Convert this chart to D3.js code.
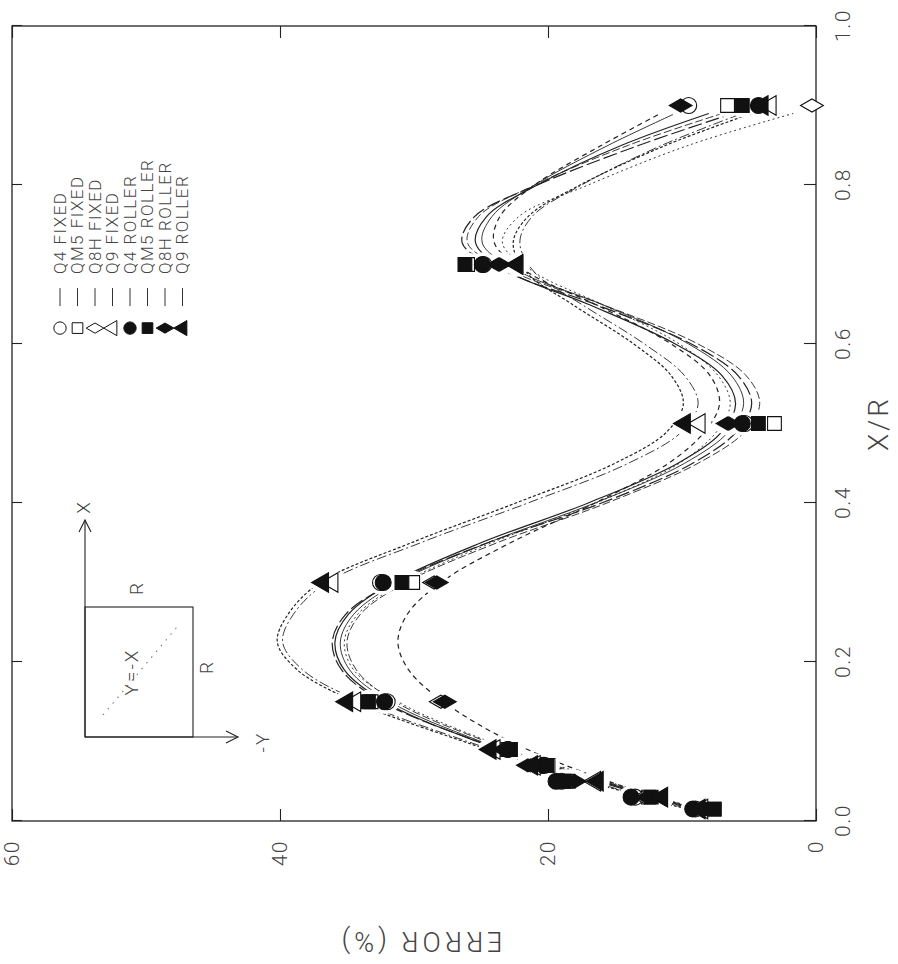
<!DOCTYPE html>
<html><head><meta charset="utf-8">
<script src="https://cdn.jsdelivr.net/npm/d3@7"></script>
<style>
html,body{margin:0;padding:0;background:#fff;}
svg{display:block;}
text{font-family:Roboto,"DejaVu Sans",sans-serif;font-weight:300;fill:#444;}
</style></head><body>
<svg id="chart" width="898" height="964"></svg>
<script>
// ---- series definitions ----
const seriesNames   = ["Q4 FIXED","QM5 FIXED","Q8H FIXED","Q9 FIXED","Q4 ROLLER","QM5 ROLLER","Q8H ROLLER","Q9 ROLLER"];
const seriesSymbols = ["circle","square","diamond","triangle","circle","square","diamond","triangle"];
const seriesFilled  = [false,false,false,false,true,true,true,true];
const seriesDash    = ["none","8,3","2,3","10,3,2,3","none","14,4","5,4","3,2"];

// measured points: X/R stations
const pointXR = [0.015,0.03,0.05,0.07,0.09,0.15,0.3,0.5,0.7,0.9];
const q4Fixed    = [9.0,13.5,19.0,20.5,23.0,32.0,32.5,5.3,24.8,9.5];
const qm5Fixed   = [7.6,12.5,18.5,20.0,23.0,33.2,30.1,3.1,26.0,6.6];
const q8hFixed   = [8.0,12.8,18.2,21.3,23.5,28.0,28.5,6.5,23.6,0.3];
const q9Fixed    = [8.5,11.5,16.5,21.0,24.0,34.4,36.1,8.7,22.3,3.4];
const q4Roller   = [9.2,13.8,19.4,20.3,23.0,32.2,32.3,5.5,24.9,4.3];
const qm5Roller  = [7.6,12.3,18.8,20.1,22.8,33.4,30.9,4.3,26.2,5.5];
const q8hRoller  = [8.2,12.6,18.0,21.5,23.3,27.7,28.3,6.6,23.7,10.1];
const q9Roller   = [8.7,11.5,16.3,21.2,24.3,35.0,36.8,9.8,22.3,4.0];
const pointSets  = [q4Fixed,qm5Fixed,q8hFixed,q9Fixed,q4Roller,qm5Roller,q8hRoller,q9Roller];

// fitted curves: X/R knots and fitted error values
const fitXR = [0.01,0.05,0.10,0.15,0.19,0.225,0.26,0.30,0.35,0.40,0.45,0.49,0.525,0.56,0.60,0.65,0.69,0.727,0.76,0.80,0.85,0.89];
const q4FixedFit   = [8.0,16.0,25.0,31.8,34.8,35.5,34.5,31.2,24.5,16.5,9.8,6.5,5.4,6.3,9.5,16.0,22.0,24.9,24.2,21.0,15.5,10.5];
const qm5FixedFit  = [7.8,15.8,24.6,31.4,34.3,35.0,34.0,30.6,23.8,15.6,8.8,5.3,4.2,5.2,8.8,16.0,22.5,26.0,25.2,21.0,14.0,7.0];
const q8hFixedFit  = [7.7,15.6,24.4,31.2,34.5,35.2,34.2,30.8,24.2,16.4,10.2,7.4,6.4,7.3,10.2,16.0,21.0,23.4,22.2,17.0,9.5,1.7];
const q9FixedFit   = [8.4,16.8,26.0,34.0,38.3,39.8,39.0,36.5,29.5,21.5,14.0,10.0,8.8,9.8,12.8,17.5,21.0,22.1,21.2,17.5,11.5,5.5];
const q4RollerFit  = [8.2,16.3,25.3,32.2,35.2,35.9,34.9,31.6,25.0,17.0,10.3,7.0,6.0,7.0,10.5,17.0,22.8,25.4,24.6,20.8,14.5,8.0];
const qm5RollerFit = [7.9,16.1,25.2,32.4,35.4,36.1,35.1,31.5,24.5,16.0,9.2,5.9,4.8,5.8,9.3,16.5,23.0,26.4,25.5,20.8,13.2,6.2];
const q8hRollerFit = [8.0,15.5,22.8,27.8,30.4,31.2,30.5,28.0,22.8,16.5,11.0,8.3,7.2,7.9,10.8,16.5,21.5,24.0,23.6,21.0,16.0,11.6];
const q9RollerFit  = [8.6,17.0,26.3,34.4,38.7,40.2,39.4,37.0,30.2,22.4,15.0,11.1,9.9,10.8,13.6,18.2,21.6,22.6,21.5,17.6,11.2,4.8];
const fitSets = [q4FixedFit,qm5FixedFit,q8hFixedFit,q9FixedFit,q4RollerFit,qm5RollerFit,q8hRollerFit,q9RollerFit];

// axes
const xrTicks  = [0,0.2,0.4,0.6,0.8,1.0];
const errTicks = [0,20,40,60];

// ---- layout: the plot is built upright, then turned a quarter turn ----
const W = 795, H = 804;
const svg = d3.select("#chart");
const g = svg.append("g").attr("transform","translate(12,821) rotate(-90)");

const x = d3.scaleLinear().domain([0,1]).range([0,W]);
const y = d3.scaleLinear().domain([0,60]).range([H,0]);

const symType = {circle:d3.symbolCircle, square:d3.symbolSquare, diamond:d3.symbolDiamond, triangle:d3.symbolTriangle};
const symSize = {circle:200, square:190, diamond:150, triangle:165};
const sym = s => d3.symbol().type(symType[s]).size(symSize[s]);

// clip & gap mask so fitted lines break around the symbols
const defs = svg.append("defs");
defs.append("clipPath").attr("id","plotclip").append("rect").attr("width",W).attr("height",H);
const mask = defs.append("mask").attr("id","gaps").attr("maskUnits","userSpaceOnUse")
  .attr("x",-50).attr("y",-50).attr("width",W+100).attr("height",H+100);
mask.append("rect").attr("x",-50).attr("y",-50).attr("width",W+100).attr("height",H+100).attr("fill","#fff");
pointSets.forEach(vals => vals.forEach((v,i) => {
  mask.append("circle").attr("cx",x(pointXR[i])).attr("cy",y(v)).attr("r",12).attr("fill","#000");
}));

// axes
const axisStyle = sel => {
  sel.select(".domain").remove();
  sel.selectAll(".tick line").attr("stroke","#222").attr("stroke-width",1.1);
  sel.selectAll(".tick text").attr("fill","#555").style("font-size","21px").style("letter-spacing","1.5px");
};
g.append("g").attr("transform",`translate(0,${H})`)
  .call(d3.axisBottom(x).tickValues(xrTicks).tickFormat(d3.format(".1f")).tickSizeInner(-12).tickSizeOuter(0).tickPadding(19))
  .call(axisStyle);
g.append("g")
  .call(d3.axisLeft(y).tickValues(errTicks).tickFormat(d3.format("d")).tickSizeInner(-12).tickSizeOuter(0).tickPadding(19))
  .call(axisStyle);
g.append("g")
  .call(d3.axisTop(x).tickValues(xrTicks).tickFormat("").tickSizeInner(-10).tickSizeOuter(0))
  .call(axisStyle);
g.append("g").attr("transform",`translate(${W},0)`)
  .call(d3.axisRight(y).tickValues(errTicks).tickFormat("").tickSizeInner(-12).tickSizeOuter(0))
  .call(axisStyle);
g.append("rect").attr("width",W).attr("height",H).attr("fill","none").attr("stroke","#222").attr("stroke-width",1.3);

// axis titles
g.append("text").attr("x",W/2).attr("y",H+72).attr("text-anchor","middle")
  .style("font-size","28px").style("letter-spacing","3px").attr("fill","#555").text("X/R");
g.append("text").attr("transform",`translate(-118,${H/2+6}) rotate(-90)`).attr("text-anchor","middle")
  .attr("dominant-baseline","middle").style("font-size","27px").style("letter-spacing","4px").attr("fill","#555").text("ERROR (%)");

// fitted curves
const line = d3.line().x(d => x(d[0])).y(d => y(d[1])).curve(d3.curveCatmullRom.alpha(0.5));
const curves = g.append("g").attr("clip-path","url(#plotclip)").append("g").attr("mask","url(#gaps)");
fitSets.forEach((vals,k) => {
  curves.append("path").datum(fitXR.map((t,i) => [t, vals[i]]))
    .attr("d",line).attr("fill","none").attr("stroke","#222")
    .attr("stroke-width", seriesFilled[k] ? 1.2 : 0.9)
    .attr("stroke-dasharray", seriesDash[k]);
});

// measured points
const marks = g.append("g");
pointSets.forEach((vals,k) => {
  marks.selectAll(null).data(vals.map((v,i) => [pointXR[i], v])).enter().append("path")
    .attr("transform", d => `translate(${x(d[0])},${y(d[1])})`)
    .attr("d", sym(seriesSymbols[k])())
    .attr("fill", seriesFilled[k] ? "#111" : "#fff")
    .attr("stroke","#111").attr("stroke-width",1.1);
});

// legend
const leg = g.append("g").attr("transform",`translate(${x(0.62)},48)`);
seriesNames.forEach((name,k) => {
  const row = leg.append("g").attr("transform",`translate(0,${k*17.5})`);
  row.append("path").attr("d", d3.symbol().type(symType[seriesSymbols[k]]).size(symSize[seriesSymbols[k]]*0.6)())
    .attr("fill", seriesFilled[k] ? "#111" : "#fff").attr("stroke","#111").attr("stroke-width",1);
  row.append("line").attr("x1",22).attr("x2",40).attr("stroke","#333").attr("stroke-width",1);
  row.append("text").attr("x",54).attr("dy","0.35em").style("font-size","17px").style("letter-spacing","1.5px").text(name);
});

// inset sketch of the line Y = -X in the R x R square
const ins = g.append("g").attr("stroke","#222").attr("fill","none").attr("stroke-width",1.1);
ins.append("rect").attr("x",84).attr("y",73).attr("width",130).attr("height",108);
ins.append("line").attr("x1",84).attr("y1",73).attr("x2",301).attr("y2",73);
ins.append("path").attr("d","M289,67 L301,73 L289,79");
ins.append("line").attr("x1",84).attr("y1",73).attr("x2",84).attr("y2",226);
ins.append("path").attr("d","M78,214 L84,226 L90,214");
ins.append("line").attr("x1",106).attr("y1",91).attr("x2",194).attr("y2",165).attr("stroke-dasharray","1.5,6").attr("stroke","#777");
const insText = (tx,ty,s) => g.append("text").attr("x",tx).attr("y",ty).attr("text-anchor","middle")
  .attr("dominant-baseline","middle").style("font-size","19px").style("letter-spacing","2px").text(s);
insText(149,121,"Y=-X");
insText(233,126,"R");
insText(154,196,"R");
insText(79,252,"-Y");
insText(314,73,"X");
</script>
</body></html>
